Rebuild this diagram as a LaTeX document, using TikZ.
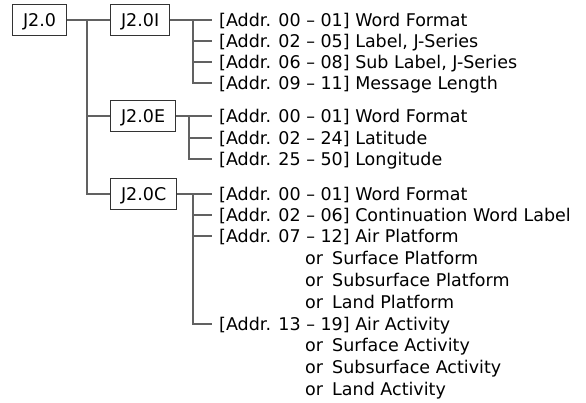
\documentclass[tikz,border=0pt]{standalone}
\usepackage{fontspec}
\setmainfont{DejaVu Sans}
\begin{document}
\begin{tikzpicture}[x=1pt,y=-1pt,
  font=\fontsize{17.5}{20}\selectfont,
  box/.style={draw=black!80,line width=1.1pt,anchor=west,minimum height=31pt,inner xsep=10.5pt,inner ysep=0pt,text height=13pt,text depth=0pt},
  item/.style={anchor=west,inner xsep=7pt,inner ysep=0pt,text height=13pt,text depth=0pt},
  conn/.style={draw=black!62,line width=1.2pt}]
\useasboundingbox (0,0) rectangle (586,403);
\node[box] (J0) at (12,20) {J2.0};
\node[box] (JI) at (110,20) {J2.0I};
\node[box] (JE) at (110,116) {J2.0E};
\node[box] (JC) at (110,194) {J2.0C};
% J2.0I items
\node[item] (i1) at (212,20) {[Addr. 00 – 01] Word Format};
\node[item] (i2) at (212,41) {[Addr. 02 – 05] Label, J-Series};
\node[item] (i3) at (212,62) {[Addr. 06 – 08] Sub Label, J-Series};
\node[item] (i4) at (212,83) {[Addr. 09 – 11] Message Length};
% J2.0E items
\node[item] (e1) at (212,116) {[Addr. 00 – 01] Word Format};
\node[item] (e2) at (212,138) {[Addr. 02 – 24] Latitude};
\node[item] (e3) at (212,159) {[Addr. 25 – 50] Longitude};
% J2.0C items
\node[item] (c1) at (212,194) {[Addr. 00 – 01] Word Format};
\node[item] (c2) at (212,215) {[Addr. 02 – 06] Continuation Word Label};
\node[item] (c3) at (212,236) {[Addr. 07 – 12] Air Platform};
\node[item] (c3a) at (298,258) {\makebox[27pt][l]{or}Surface Platform};
\node[item] (c3b) at (298,280) {\makebox[27pt][l]{or}Subsurface Platform};
\node[item] (c3c) at (298,302) {\makebox[27pt][l]{or}Land Platform};
\node[item] (c4) at (212,324) {[Addr. 13 – 19] Air Activity};
\node[item] (c4a) at (298,345) {\makebox[27pt][l]{or}Surface Activity};
\node[item] (c4b) at (298,367) {\makebox[27pt][l]{or}Subsurface Activity};
\node[item] (c4c) at (298,389) {\makebox[27pt][l]{or}Land Activity};
% junctions
\coordinate (t0) at (87,20);
\coordinate (tI) at (193,20);
\coordinate (tE) at (189,116);
\coordinate (tC) at (193,194);
% main trunk
\draw[conn] (J0.east) -- (JI.west);
\draw[conn] (t0) |- (JC.west);
\draw[conn] (t0 |- JE.west) -- (JE.west);
% J2.0I
\draw[conn] (JI.east) -- (i1.west);
\draw[conn] (tI) |- (i4.west);
\draw[conn] (tI |- i2.west) -- (i2.west);
\draw[conn] (tI |- i3.west) -- (i3.west);
% J2.0E
\draw[conn] (JE.east) -- (e1.west);
\draw[conn] (tE) |- (e3.west);
\draw[conn] (tE |- e2.west) -- (e2.west);
% J2.0C
\draw[conn] (JC.east) -- (c1.west);
\draw[conn] (tC) |- (c4.west);
\draw[conn] (tC |- c2.west) -- (c2.west);
\draw[conn] (tC |- c3.west) -- (c3.west);
\end{tikzpicture}
\end{document}
